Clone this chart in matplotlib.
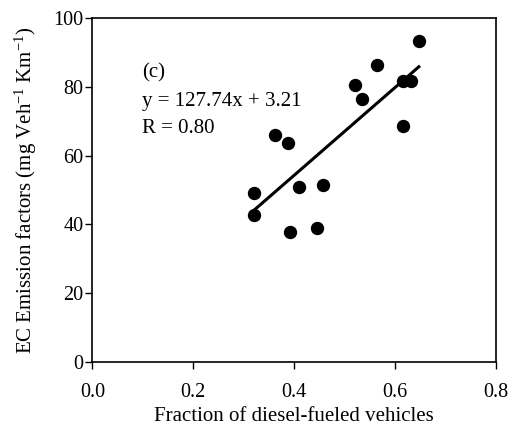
import matplotlib
matplotlib.use("Agg")
import matplotlib.pyplot as plt
import numpy as np

plt.rcParams['font.family'] = 'Liberation Serif'
plt.rcParams['mathtext.fontset'] = 'custom'
plt.rcParams['mathtext.rm'] = 'Liberation Serif'
plt.rcParams['mathtext.it'] = 'Liberation Serif:italic'

# Fraction of diesel-fueled vehicles vs EC emission factor
diesel_fraction = [0.321, 0.321, 0.362, 0.388, 0.392, 0.410, 0.446, 0.458,
                   0.521, 0.535, 0.565, 0.616, 0.631, 0.616, 0.647]
ec_factor = [49.1, 42.7, 66.0, 63.8, 37.9, 50.8, 38.9, 51.4,
             80.5, 76.6, 86.5, 81.6, 81.6, 68.7, 93.5]

slope = 127.74
intercept = 3.21
r_value = 0.80

x_ticks = [0.0, 0.2, 0.4, 0.6, 0.8]
y_ticks = [0, 20, 40, 60, 80, 100]

fs = 14.5

fig = plt.figure(figsize=(5.13, 4.43), dpi=100)
ax = fig.add_axes([0.180, 0.183, 0.787, 0.776])

ax.plot(diesel_fraction, ec_factor, 'o', color='black', markersize=8.6, zorder=3)

xf = np.array([min(diesel_fraction), max(diesel_fraction)])
ax.plot(xf, slope * xf + intercept, '-', color='black', linewidth=2.2, zorder=2)

ax.set_xlim(0, 0.8)
ax.set_ylim(0, 100)
ax.set_xticks(x_ticks)
ax.set_xticklabels([f"{v:.1f}" for v in x_ticks])
ax.set_yticks(y_ticks)
ax.set_yticklabels([str(v) for v in y_ticks])
ax.tick_params(axis='both', direction='out', length=5, width=1, labelsize=fs)
ax.tick_params(axis='x', pad=10)
ax.tick_params(axis='y', pad=1.5)
for s in ax.spines.values():
    s.set_linewidth(1.2)

ax.set_xlabel("Fraction of diesel-fueled vehicles", fontsize=fs + 0.5, labelpad=3.5)
ax.set_ylabel(r"EC Emission factors (mg Veh$^{\mathregular{-1}}$ Km$^{\mathregular{-1}}$)",
              fontsize=fs + 0.5, labelpad=10)

ax.text(0.098, 84.1, "(c)", fontsize=fs + 0.5, va='center', ha='left')
ax.text(0.098, 75.8, f"y = {slope:.2f}x + {intercept:.2f}", fontsize=fs + 0.5, va='center', ha='left')
ax.text(0.098, 68.0, f"R = {r_value:.2f}", fontsize=fs + 0.5, va='center', ha='left')

fig.savefig("out.png", dpi=100)
